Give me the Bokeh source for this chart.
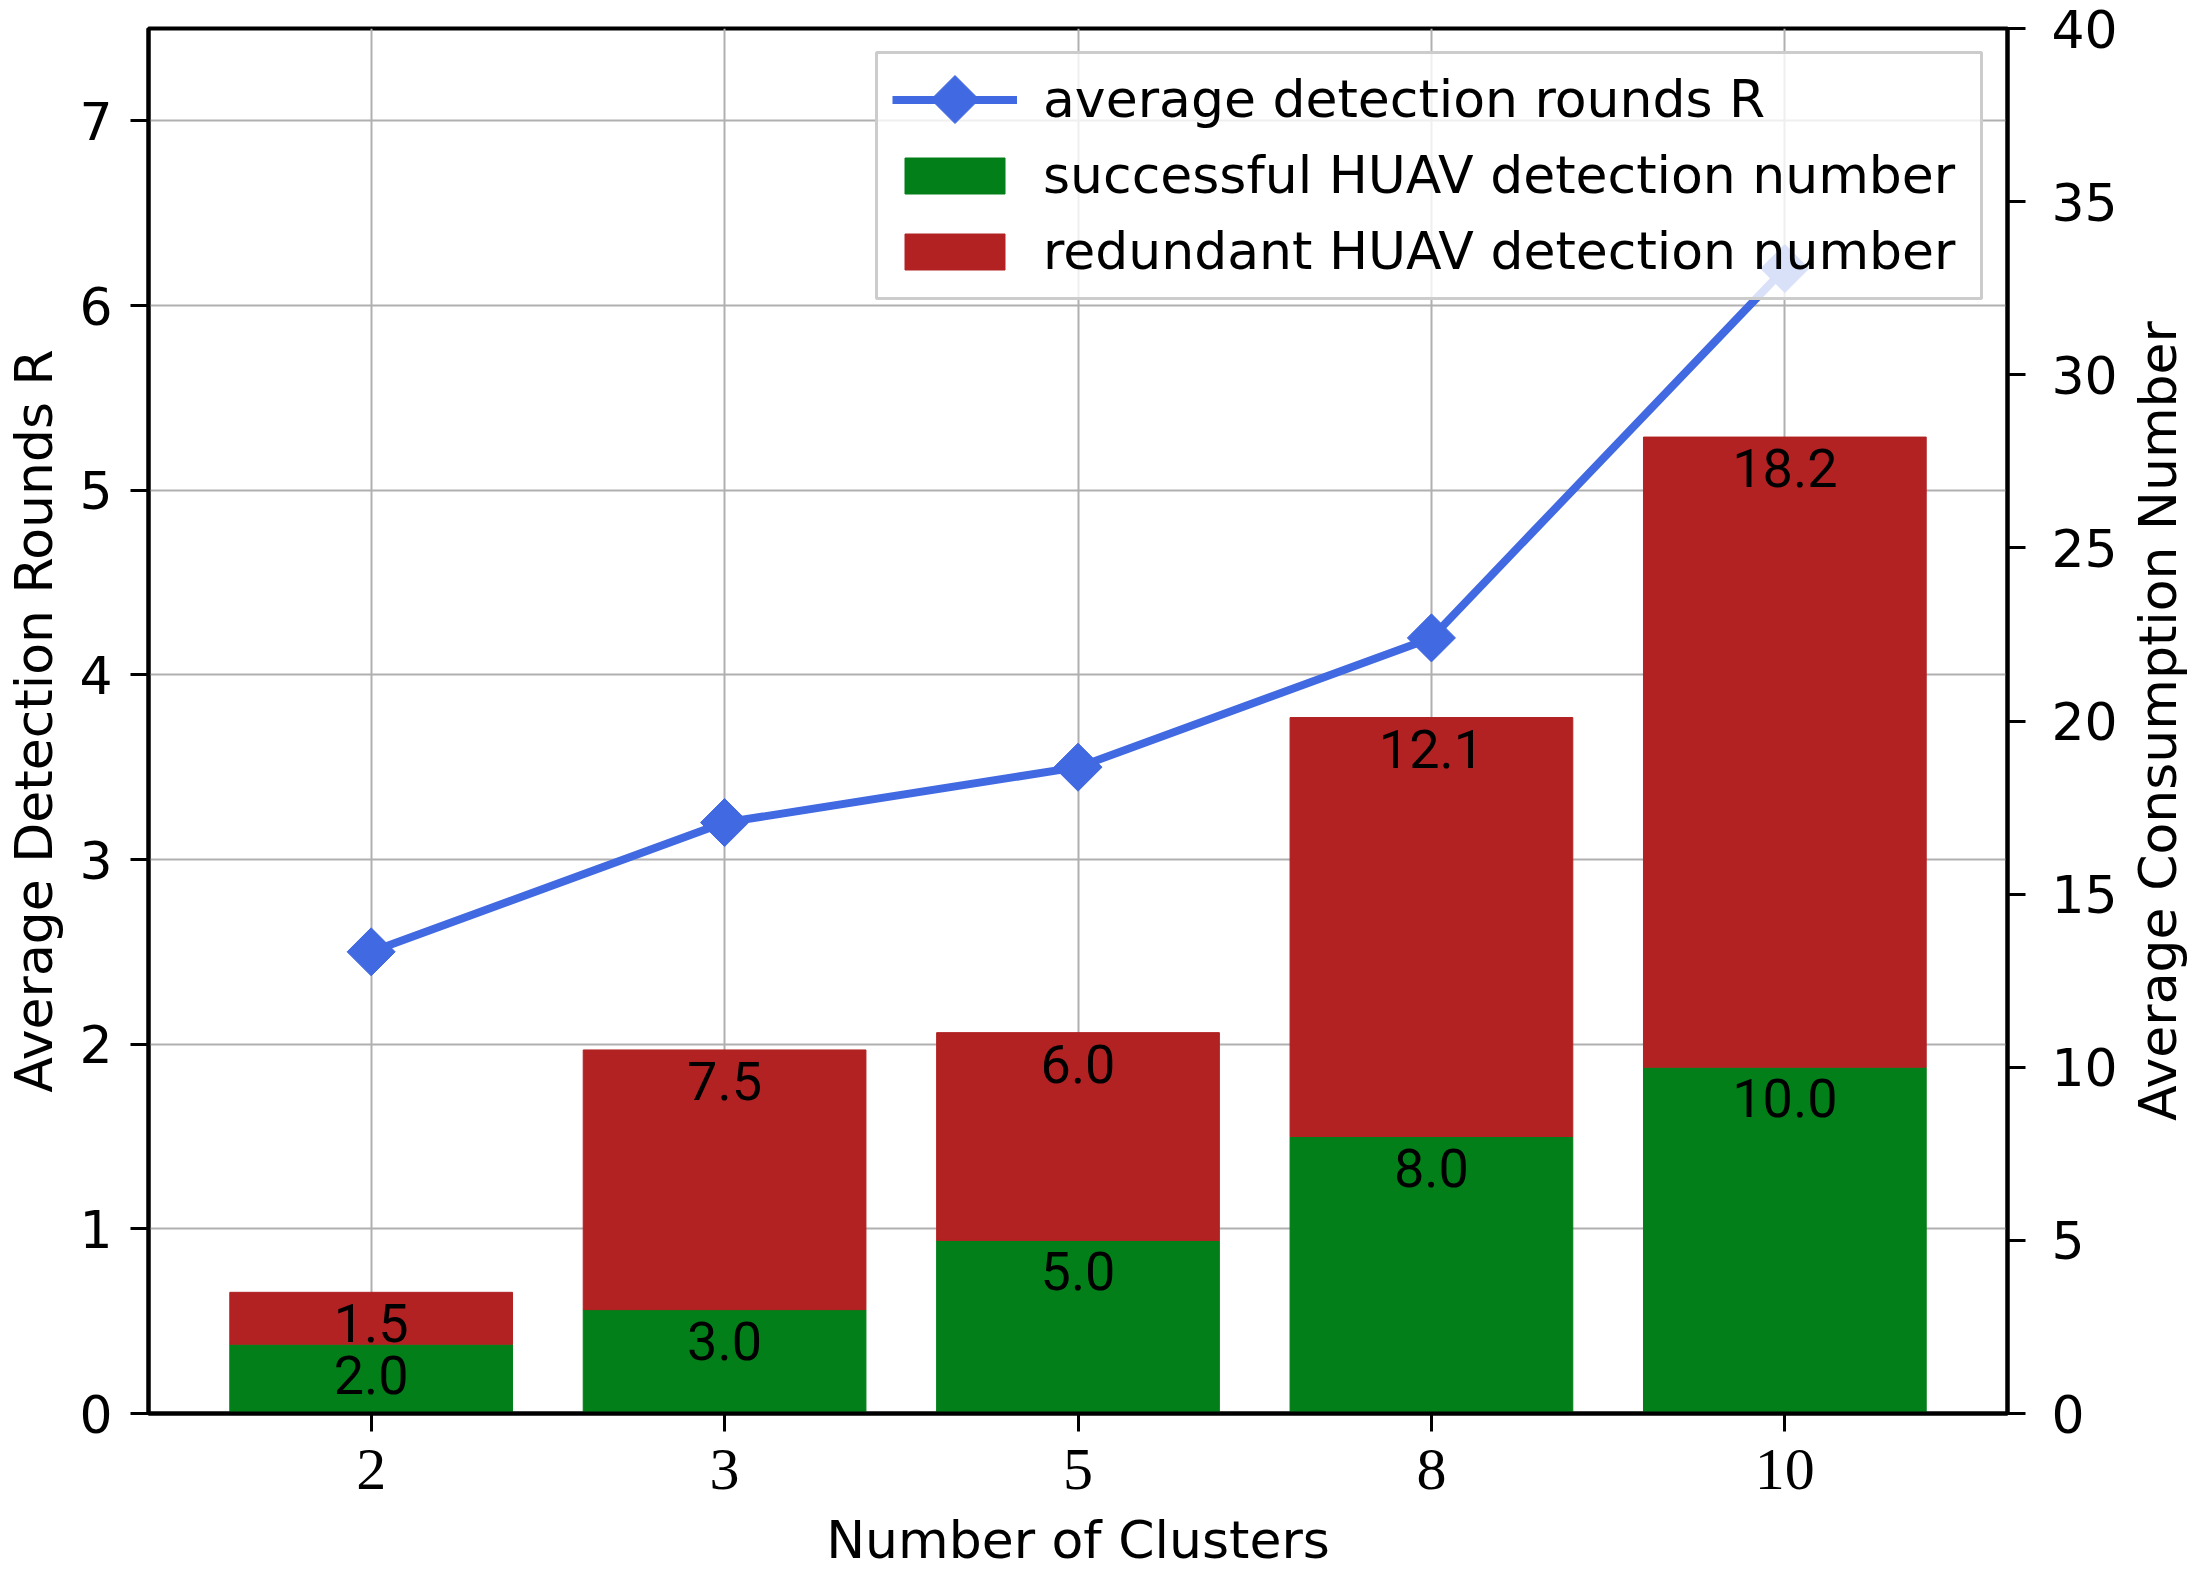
import math
from bokeh.plotting import figure
from bokeh.layouts import row
from bokeh.models import (ColumnDataSource, Range1d, LinearAxis, Legend, LegendItem,
                          FactorRange, SingleIntervalTicker, FixedTicker,
                          PolyAnnotation, BoxAnnotation)
from bokeh.core.properties import value
from bokeh.embed import file_html
from bokeh.resources import INLINE

# ---- data ----
clusters = ["2", "3", "5", "8", "10"]
avg_rounds = [2.5, 3.2, 3.5, 4.2, 6.2]
successful = [2.0, 3.0, 5.0, 8.0, 10.0]
redundant = [1.5, 7.5, 6.0, 12.1, 18.2]

GREEN = "#027F19"
RED = "#B22222"
BLUE = "#4169E1"
SANS = "DejaVu Sans"
SERIF = "Liberation Serif"
LABEL_FONT = "Roboto"

source = ColumnDataSource(dict(
    clusters=clusters,
    successful=successful,
    redundant=redundant,
    rounds=avg_rounds,
    top_s=successful,
    top_r=[s + r for s, r in zip(successful, redundant)],
    lab_s=[f"{v:.1f}" for v in successful],
    lab_r=[f"{v:.1f}" for v in redundant],
))

TOTAL_W, H = 2188, 1572
SW = 64                      # width of the strip holding the right-hand axis title
W = TOTAL_W - SW
BL, BT = 148, 28
FRAME_H = 1388
BB = H - BT - FRAME_H
FRAME_RIGHT = 2007
p = figure(width=W, height=H,
           x_range=FactorRange(factors=clusters, range_padding=0.052),
           y_range=Range1d(0, 7.5),
           output_backend="svg", toolbar_location=None,
           min_border_left=BL, min_border_right=W - FRAME_RIGHT,
           min_border_top=BT, min_border_bottom=BB)
p.extra_y_ranges = {"cons": Range1d(0, 40)}

# grid
for g in (p.xgrid, p.ygrid):
    g.grid_line_color = "#b0b0b0"
    g.grid_line_width = 2
p.outline_line_color = "black"
p.outline_line_width = 4
p.background_fill_color = "white"
p.border_fill_color = "white"

# bars
bars = p.vbar_stack(["successful", "redundant"], x="clusters", width=0.8,
                    color=[GREEN, RED], source=source, y_range_name="cons")

# bar labels
for ycol, tcol in (("top_s", "lab_s"), ("top_r", "lab_r")):
    p.text(x="clusters", y=ycol, text=tcol, source=source, y_range_name="cons",
           text_align="center", text_baseline="top", y_offset=12,
           text_font=value(LABEL_FONT), text_font_size="54px", text_color="black")

# line
ln = p.line(x="clusters", y="rounds", source=source, line_color=BLUE, line_width=8)
sc = p.scatter(x="clusters", y="rounds", source=source, marker="square",
               angle=math.pi / 4, size=34, fill_color=BLUE, line_color=BLUE)

# axes
def style_axis(ax):
    ax.axis_line_width = 4
    ax.axis_line_color = "black"
    ax.major_tick_line_width = 3
    ax.major_tick_out = 18
    ax.major_tick_in = 0
    ax.minor_tick_line_color = None
    ax.axis_label_text_font = SANS
    ax.axis_label_text_font_size = "52px"
    ax.axis_label_text_font_style = "normal"
    ax.axis_label_text_color = "black"
    ax.major_label_text_color = "black"

xa = p.xaxis[0]
style_axis(xa)
xa.axis_label = "Number of Clusters"
xa.major_label_text_font = SERIF
xa.major_label_text_font_size = "60px"
xa.major_label_standoff = 18
xa.axis_label_standoff = 18

ya = p.yaxis[0]
style_axis(ya)
ya.axis_label = "Average Detection Rounds R"
ya.ticker = SingleIntervalTicker(interval=1, num_minor_ticks=0)
ya.major_label_text_font = SANS
ya.major_label_text_font_size = "52px"
ya.major_label_standoff = 18
ya.axis_label_standoff = 12

ra = LinearAxis(y_range_name="cons",
                ticker=SingleIntervalTicker(interval=5, num_minor_ticks=0))
style_axis(ra)
ra.major_label_text_font = SANS
ra.major_label_text_font_size = "52px"
ra.major_label_standoff = 26
p.add_layout(ra, "right")

# legend box (drawn as an annotation so the legend symbol can sit above it)
PAD = 16
ROW = 62
SPACING = 14
GW = 125
HB = 2 * PAD + 3 * ROW + 2 * SPACING
B_TOP_UP = FRAME_H - 27
B_LEFT = 728
B_RIGHT = 1833
p.add_layout(BoxAnnotation(left=B_LEFT, right=B_RIGHT, bottom=B_TOP_UP - HB, top=B_TOP_UP,
                           left_units="screen", right_units="screen",
                           bottom_units="screen", top_units="screen",
                           fill_color="white", fill_alpha=0.8,
                           line_color="#cccccc", line_width=3, line_alpha=1.0))

# legend diamond symbol
cx = B_LEFT + PAD + GW / 2
cy = B_TOP_UP - PAD - ROW / 2
hd = 24
p.add_layout(PolyAnnotation(xs=[cx, cx + hd, cx, cx - hd], ys=[cy + hd, cy, cy - hd, cy],
                            xs_units="screen", ys_units="screen", level="overlay",
                            fill_color=BLUE, fill_alpha=1.0, line_color=BLUE,
                            line_alpha=1.0, line_width=1))

leg = Legend(items=[
    LegendItem(label="average detection rounds R", renderers=[ln]),
    LegendItem(label="successful HUAV detection number", renderers=[bars[0]]),
    LegendItem(label="redundant HUAV detection number", renderers=[bars[1]]),
], location=(B_LEFT, B_TOP_UP - HB))
leg.padding = PAD
leg.spacing = SPACING
leg.label_height = ROW
leg.glyph_height = 45
leg.glyph_width = GW
leg.label_standoff = 26
leg.label_text_font = SANS
leg.label_text_font_size = "52px"
leg.label_text_color = "black"
leg.border_line_alpha = 0
leg.background_fill_alpha = 0
leg.margin = 0
p.add_layout(leg)

# strip on the right holding the right-hand axis title (reads bottom-to-top)
side = figure(width=SW, height=H, x_range=Range1d(0, 1), y_range=Range1d(0, 40),
              output_backend="svg", toolbar_location=None, x_axis_location=None,
              min_border_left=0, min_border_right=0,
              min_border_top=BT, min_border_bottom=BB)
side.outline_line_color = None
side.xgrid.visible = False
side.ygrid.visible = False
side.background_fill_color = "white"
side.border_fill_color = "white"
sa = side.yaxis[0]
sa.ticker = FixedTicker(ticks=[])
sa.axis_line_color = None
sa.major_tick_line_color = None
sa.minor_tick_line_color = None
sa.major_tick_out = 0
sa.major_tick_in = 0
sa.major_label_standoff = 0
sa.axis_label = "Average Consumption Number"
sa.axis_label_standoff = 0
sa.axis_label_text_font = SANS
sa.axis_label_text_font_size = "52px"
sa.axis_label_text_font_style = "normal"
sa.axis_label_text_color = "black"

layout = row(p, side)
open("out.html", "w").write(file_html(layout, INLINE))
